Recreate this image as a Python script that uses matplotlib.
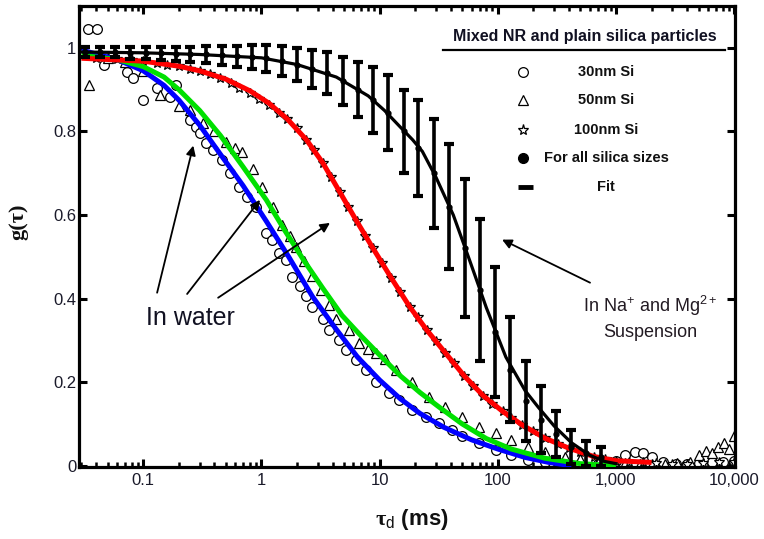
import matplotlib
matplotlib.use("Agg")
import matplotlib.pyplot as plt
from matplotlib.ticker import FixedLocator, FixedFormatter, LogLocator, NullFormatter, NullLocator

plt.rcParams['font.family'] = ['Liberation Sans', 'DejaVu Sans']
plt.rcParams['mathtext.fontset'] = 'custom'
plt.rcParams['mathtext.rm'] = 'Liberation Sans'
plt.rcParams['mathtext.it'] = 'Liberation Sans:italic'
plt.rcParams['mathtext.bf'] = 'Liberation Serif:bold'

# ---------------- data ----------------
# fit curves
blue_t = [0.03, 0.04, 0.06, 0.1, 0.15, 0.2, 0.3, 0.45, 0.7, 1.1, 1.7, 2.7, 4.2, 6.5, 10, 15, 22, 35, 60,
          100, 170, 270, 420]
blue_g = [0.995, 0.985, 0.972, 0.945, 0.91, 0.875, 0.815, 0.745, 0.67, 0.585, 0.5, 0.405, 0.33, 0.26,
          0.205, 0.16, 0.125, 0.092, 0.062, 0.04, 0.02, 0.008, 0.0]

green_t = [0.03, 0.06, 0.1, 0.15, 0.2, 0.3, 0.45, 0.7, 1.1, 1.6, 2.3, 3.3, 4.8, 7, 10, 15, 22, 32, 50,
           80, 130, 250, 500, 1000]
green_g = [0.982, 0.972, 0.955, 0.93, 0.9, 0.85, 0.79, 0.715, 0.636, 0.56, 0.49, 0.425, 0.36, 0.31,
           0.265, 0.215, 0.175, 0.14, 0.1, 0.065, 0.04, 0.018, 0.005, 0.0]

red_t = [0.03, 0.1, 0.2, 0.3, 0.5, 0.8, 1.15, 1.65, 2.4, 3.3, 4.6, 6.4, 8.8, 12.5, 18, 25, 36, 52, 75,
         110, 160, 250, 400, 650, 1000, 2000]
red_g = [0.975, 0.968, 0.956, 0.945, 0.925, 0.897, 0.868, 0.83, 0.78, 0.725, 0.655, 0.585, 0.52, 0.45,
         0.38, 0.325, 0.27, 0.215, 0.168, 0.13, 0.098, 0.066, 0.042, 0.022, 0.012, 0.008]

black_t = [0.03, 0.1, 0.3, 1, 2, 4.3, 8, 11, 15, 19, 23, 30, 42, 58, 80, 117, 170, 220, 300, 420, 600,
           810, 1000]
black_g = [0.99, 0.988, 0.984, 0.976, 0.96, 0.93, 0.885, 0.85, 0.81, 0.78, 0.752, 0.69, 0.6, 0.49,
           0.378, 0.26, 0.18, 0.14, 0.095, 0.055, 0.025, 0.01, 0.005]

# salt suspension data (all silica sizes) with error bars
eb_t = [0.032, 0.043, 0.058, 0.078, 0.105, 0.14, 0.19, 0.25, 0.34, 0.46, 0.62, 0.83, 1.1, 1.5, 2.0,
        2.7, 3.6, 4.9, 6.5, 8.8, 11.8, 16, 21, 29, 39, 53, 71, 95, 128, 172, 230, 310, 420, 560, 750]
eb_g = [0.99, 0.99, 0.99, 0.988, 0.988, 0.987, 0.986, 0.985, 0.984, 0.982, 0.98, 0.978, 0.975, 0.968,
        0.96, 0.95, 0.94, 0.92, 0.90, 0.875, 0.845, 0.80, 0.76, 0.70, 0.62, 0.52, 0.42, 0.32, 0.23,
        0.155, 0.11, 0.075, 0.045, 0.03, 0.022]
eb_err = [0.012, 0.012, 0.013, 0.014, 0.015, 0.016, 0.017, 0.018, 0.02, 0.022, 0.025, 0.028, 0.032,
          0.036, 0.04, 0.045, 0.05, 0.058, 0.066, 0.078, 0.09, 0.1, 0.115, 0.13, 0.15, 0.165, 0.17,
          0.155, 0.125, 0.095, 0.08, 0.055, 0.04, 0.03, 0.022]

# 30 nm Si (circles)
c_t = [0.034, 0.041, 0.047, 0.073, 0.082, 0.10, 0.13, 0.167, 0.19, 0.247, 0.28, 0.30, 0.34, 0.386, 0.46,
       0.54, 0.65, 0.75, 0.9, 1.1, 1.24, 1.42, 1.62, 1.83, 2.1, 2.4, 2.7, 3.3, 3.75, 4.55, 5.2, 6.3, 7.7,
       9.4, 12, 14.6, 18.8, 24.7, 31.8, 41, 50, 69, 96, 130, 180, 250, 350, 500, 700, 1000, 1200, 1450,
       1700, 2000, 2500, 3200, 4000, 5000, 6500, 8000, 10000]
c_g = [1.045, 1.045, 0.96, 0.943, 0.928, 0.876, 0.904, 0.883, 0.91, 0.828, 0.81, 0.797, 0.773, 0.756,
       0.732, 0.70, 0.667, 0.644, 0.62, 0.557, 0.54, 0.51, 0.493, 0.452, 0.43, 0.405, 0.38, 0.35, 0.325,
       0.30, 0.278, 0.254, 0.23, 0.2, 0.175, 0.158, 0.134, 0.117, 0.103, 0.086, 0.07, 0.055, 0.038,
       0.026, 0.014, 0.008, 0.005, 0.003, 0.005, 0.012, 0.025, 0.032, 0.03, 0.02, 0.01, 0.005, 0.004,
       0.006, 0.008, 0.01, 0.012]

# 50 nm Si (triangles)
tr_t = [0.035, 0.05, 0.07, 0.1, 0.138, 0.2, 0.25, 0.32, 0.4, 0.5, 0.6, 0.69, 0.85, 1.02, 1.25, 1.5, 1.75,
        1.97, 2.3, 2.7, 3.2, 3.7, 4.3, 5.5, 6.7, 8, 9.4, 11, 13.8, 18.8, 26, 36, 50, 69, 96, 130, 180,
        250, 370, 500, 700, 900, 1200, 1600, 2000, 2600, 3300, 4200, 5000, 5800, 6500, 7300, 8200, 9000,
        10000]
tr_g = [0.91, 0.975, 0.965, 0.945, 0.888, 0.86, 0.85, 0.82, 0.80, 0.775, 0.76, 0.75, 0.71, 0.667, 0.62,
        0.575, 0.55, 0.524, 0.49, 0.455, 0.42, 0.385, 0.35, 0.325, 0.294, 0.28, 0.27, 0.255, 0.23, 0.2,
        0.165, 0.141, 0.117, 0.093, 0.079, 0.062, 0.045, 0.034, 0.022, 0.015, 0.01, 0.008, 0.006, 0.005,
        0.004, 0.005, 0.006, 0.01, 0.025, 0.035, 0.03, 0.045, 0.055, 0.04, 0.07]

# 100 nm Si (stars)
s_t = [0.04, 0.06, 0.08, 0.1, 0.13, 0.16, 0.2, 0.25, 0.3, 0.37, 0.45, 0.55, 0.65, 0.8, 0.95, 1.15, 1.4,
       1.65, 2.0, 2.4, 2.8, 3.3, 3.9, 4.6, 5.4, 6.4, 7.5, 8.8, 10.5, 12.5, 15, 18, 21, 25, 30, 36, 43, 52,
       62, 75, 90, 110, 130, 160, 200, 250, 320, 400, 500, 650, 800, 1000, 1300, 1700, 2200, 3000, 4000,
       5500, 7500, 10000]
s_g = [0.975, 0.973, 0.97, 0.968, 0.963, 0.959, 0.956, 0.95, 0.945, 0.937, 0.927, 0.915, 0.905, 0.892,
       0.878, 0.863, 0.845, 0.83, 0.807, 0.78, 0.755, 0.725, 0.69, 0.655, 0.62, 0.585, 0.55, 0.52, 0.485,
       0.45, 0.415, 0.38, 0.355, 0.325, 0.298, 0.27, 0.245, 0.215, 0.19, 0.168, 0.148, 0.13, 0.115, 0.098,
       0.082, 0.066, 0.052, 0.042, 0.032, 0.022, 0.016, 0.012, 0.01, 0.008, 0.006, 0.005, 0.005, 0.006,
       0.008, 0.01]

x_ticks = [0.1, 1, 10, 100, 1000, 10000]
x_ticklabels = ['0.1', '1', '10', '100', '1,000', '10,000']
y_ticks = [0, 0.2, 0.4, 0.6, 0.8, 1.0]
y_ticklabels = ['0', '0.2', '0.4', '0.6', '0.8', '1']

legend_labels = ['30nm Si', '50nm Si', '100nm Si', 'For all silica sizes', 'Fit']

# ---------------- figure ----------------
W, H = 764, 539
fig = plt.figure(figsize=(W / 100, H / 100), dpi=100)
ax = fig.add_axes([79 / W, 1 - 467 / H, (735 - 79) / W, (467 - 6) / H])
ax.set_xscale('log')
ax.set_xlim(0.0286, 10160)
ax.set_ylim(-0.003, 1.10)

mk = dict(linestyle='none', markerfacecolor='white', markeredgecolor='black', markeredgewidth=0.9)
ax.plot(c_t, c_g, marker='o', markersize=7, zorder=2, **mk)
ax.plot(tr_t, tr_g, marker='^', markersize=7, zorder=2, **mk)
ax.plot(s_t, s_g, marker='*', markersize=7.5, zorder=2, **mk)

ax.plot(blue_t, blue_g, color='#0000ff', lw=3.6, zorder=3, solid_capstyle='butt')
ax.plot(green_t, green_g, color='#00e000', lw=3.6, zorder=3, solid_capstyle='butt')
ax.plot(red_t, red_g, color='#ff0000', lw=3.6, zorder=3, solid_capstyle='butt')

ax.errorbar(eb_t, eb_g, yerr=eb_err, fmt='o', color='black', markersize=3.5,
            elinewidth=2.6, capsize=3.8, capthick=3.0, zorder=4)
ax.plot(black_t, black_g, color='black', lw=2.3, zorder=5)

# axes styling
for sp in ax.spines.values():
    sp.set_linewidth(2.3)
ax.xaxis.set_major_locator(FixedLocator(x_ticks))
ax.xaxis.set_major_formatter(FixedFormatter(x_ticklabels))
ax.xaxis.set_minor_locator(LogLocator(base=10, subs=[2, 3, 4, 5, 6, 7, 8, 9], numticks=20))
ax.xaxis.set_minor_formatter(NullFormatter())
ax.yaxis.set_major_locator(FixedLocator(y_ticks))
ax.yaxis.set_major_formatter(FixedFormatter(y_ticklabels))
ax.yaxis.set_minor_locator(NullLocator())
ax.tick_params(axis='both', which='major', direction='in', length=6, width=2.2,
               top=True, right=True, labelsize=12, labelcolor='#1a1a2a')
ax.tick_params(axis='x', which='minor', direction='in', length=3.5, width=1.8, top=True)
ax.tick_params(axis='x', which='major', pad=4)
ax.tick_params(axis='y', which='major', pad=2)

# axis labels
fig.text(412 / W, 1 - 520 / H, r'$\mathbf{\tau}_{\mathrm{d}}$ (ms)', fontsize=16, fontweight='bold',
         ha='center', va='center', color='#111111')
fig.text(18 / W, 1 - 222 / H, 'g(τ)', fontsize=16, fontweight='bold', family='Liberation Serif',
         rotation=90, ha='center', va='center', color='#111111')

# annotations
ax.text(0.249, 0.354, 'In water', fontsize=18, ha='center', va='center', color='#111122')
arrow = dict(arrowstyle='-|>', lw=1.3, color='black', mutation_scale=14, shrinkA=0, shrinkB=0)
ax.annotate('', xy=(0.265, 0.766), xytext=(0.131, 0.414), arrowprops=arrow)
ax.annotate('', xy=(0.973, 0.636), xytext=(0.235, 0.411), arrowprops=arrow)
ax.annotate('', xy=(3.80, 0.581), xytext=(0.43, 0.402), arrowprops=arrow)
ax.annotate('', xy=(108.7, 0.541), xytext=(603, 0.438), arrowprops=arrow)
ax.text(1940, 0.383, r'In Na$^{+}$ and Mg$^{2+}$', fontsize=13, ha='center', va='center', color='#221a22')
ax.text(1940, 0.318, 'Suspension', fontsize=13, ha='center', va='center', color='#221a22')

# legend (drawn by hand)
def axx(px):
    return (px - 79) / 656

def axy(py):
    return (467 - py) / 461

T = ax.transAxes
ax.text(axx(585), axy(37), 'Mixed NR and plain silica particles', transform=T, fontsize=11.5,
        fontweight='bold', ha='center', va='center', color='#111122')
ax.plot([axx(443), axx(725)], [axy(50), axy(50)], transform=T, color='black', lw=1.6, clip_on=False)
rows = [72, 100, 130, 158, 187]
mx = axx(523)
ax.plot([mx], [axy(rows[0])], transform=T, marker='o', markersize=7, **mk)
ax.plot([mx], [axy(rows[1])], transform=T, marker='^', markersize=7, **mk)
ax.plot([mx], [axy(rows[2])], transform=T, marker='*', markersize=8, **mk)
ax.plot([mx], [axy(rows[3])], transform=T, marker='o', markersize=7, color='black', linestyle='none')
ax.plot([axx(518), axx(533)], [axy(rows[4]), axy(rows[4])], transform=T, color='black', lw=3.5,
        solid_capstyle='butt')
for lab, r in zip(legend_labels, rows):
    ax.text(axx(606), axy(r), lab, transform=T, fontsize=10.5, fontweight='bold', ha='center',
            va='center', color='#111111')

fig.savefig('out.png', dpi=100)
